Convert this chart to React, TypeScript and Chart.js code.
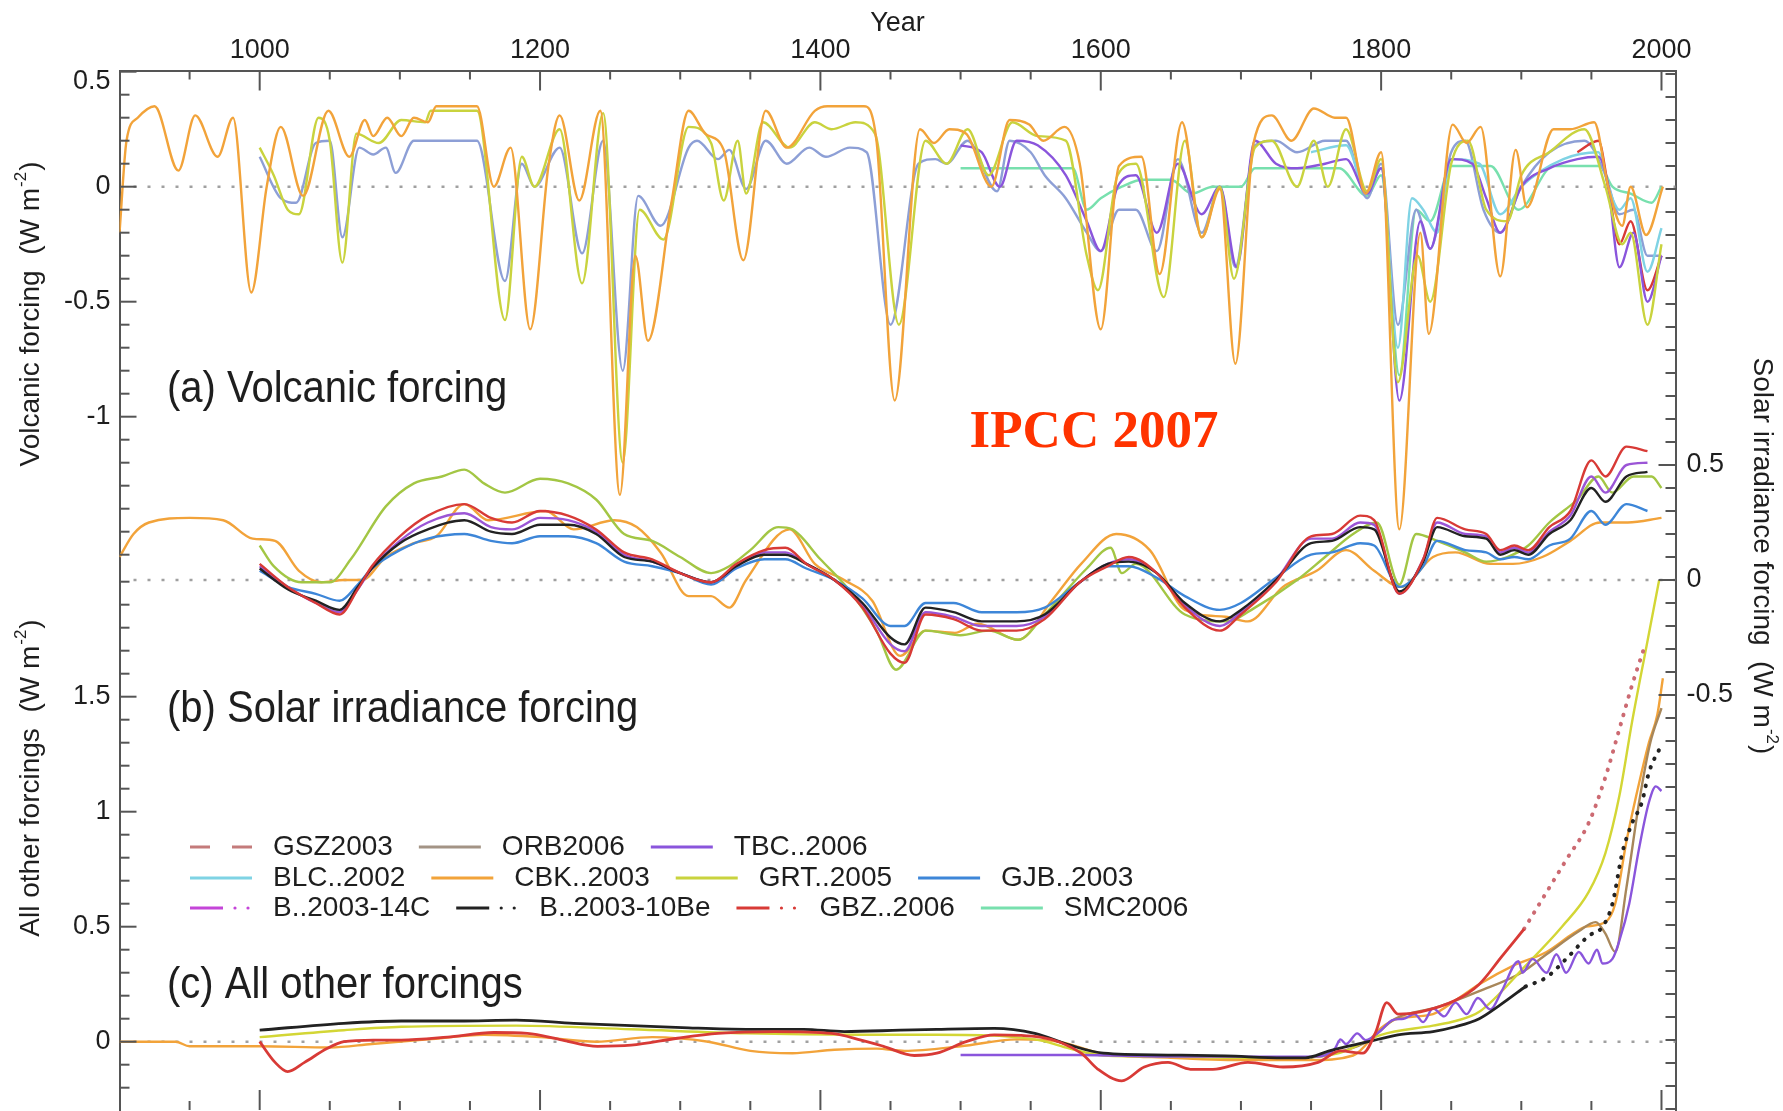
import React, { useEffect, useRef } from 'react';
import { Chart, registerables } from 'chart.js';

Chart.register(...registerables);

// ---------------- tick labels ----------------
const X_LABELS = [1000, 1200, 1400, 1600, 1800, 2000];
const VOLC_LABELS = [0, -0.5, -1];
const VOLC_TOP_LABEL = [0.5];
const OTHER_LABELS = [1.5, 1, 0.5, 0];
const SOLAR_LABELS = [0.5, 0, -0.5];

// ---------------- (a) volcanic forcing ----------------
const CBK_V_YEARS = [900,905,913,925,942,954,970,981,994,1005,1015,1031,1049,1064,1075,1081,1091,1101,1110,1120,1126,1155,1167,1179,1193,1206,1214,1228,1243,1257,1268,1277,1294,1306,1318,1331,1345,1361,1376,1396,1405,1431,1440,1453,1471,1481,1492,1504,1522,1535,1549,1559,1574,1585,1600,1613,1629,1642,1658,1672,1685,1696,1709,1722,1736,1752,1767,1775,1789,1800,1813,1828,1834,1851,1861,1871,1885,1896,1904,1923,1935,1952,1962,1972,1978,1989,2001];
const CBK_V = [-0.2,0.2,0.3,0.35,0.07,0.31,0.13,0.3,-0.46,0.0,0.26,-0.04,0.33,0.13,0.29,0.22,0.3,0.22,0.3,0.28,0.35,0.35,0.0,0.17,-0.62,0.09,0.31,-0.06,0.33,-1.34,-0.3,-0.67,-0.06,0.33,0.23,0.16,-0.32,0.33,0.17,0.33,0.35,0.35,0.2,-0.93,0.25,0.19,0.25,0.23,0.0,0.29,0.27,0.2,0.26,0.1,-0.62,0.09,0.13,-0.38,0.28,-0.22,-0.01,-0.77,0.19,0.31,0.2,0.34,0.3,0.3,-0.03,0.15,-1.49,-0.2,-0.64,0.27,0.19,0.26,-0.39,0.16,-0.09,0.25,0.25,0.28,0.0,-0.17,0.0,-0.21,0.0];

const GRT_V_YEARS = [1000,1010,1020,1028,1042,1050,1059,1069,1085,1101,1118,1122,1155,1175,1187,1196,1214,1230,1245,1259,1271,1288,1306,1322,1331,1341,1347,1359,1378,1396,1408,1425,1439,1456,1475,1490,1505,1520,1537,1555,1575,1590,1598,1612,1625,1645,1660,1672,1685,1695,1710,1722,1740,1752,1762,1775,1790,1800,1812,1826,1835,1850,1862,1875,1890,1900,1920,1945,1960,1972,1978,1990,2000];
const GRT_V = [0.17,0.05,-0.1,-0.12,0.3,0.2,-0.33,0.23,0.19,0.29,0.28,0.33,0.33,-0.58,0.13,0.0,0.25,-0.42,0.32,-1.2,-0.1,-0.23,0.26,0.19,-0.06,0.2,-0.03,0.28,0.17,0.28,0.25,0.28,0.23,-0.6,0.2,0.1,0.25,0.05,0.28,0.22,0.2,-0.3,-0.45,0.05,0.1,-0.48,0.2,-0.22,0.0,-0.4,0.17,0.2,0.0,0.2,0.0,0.25,-0.02,0.12,-0.85,-0.3,-0.5,0.1,0.2,-0.1,-0.15,0.05,0.15,0.25,0.0,-0.25,-0.2,-0.6,-0.25];

const GJB_V_YEARS = [1000,1015,1026,1040,1050,1059,1071,1081,1090,1097,1110,1155,1175,1187,1196,1214,1230,1245,1259,1270,1286,1306,1312,1327,1335,1347,1361,1376,1392,1404,1421,1433,1450,1470,1482,1490,1505,1526,1535,1550,1560,1575,1590,1600,1613,1625,1640,1655,1672,1685,1696,1710,1725,1740,1760,1775,1790,1800,1812,1825,1835,1850,1860,1873,1885,1900,1920,1945,1960,1970,1980,1990,2000];
const GJB_V = [0.13,-0.05,-0.07,0.19,0.2,-0.22,0.17,0.14,0.17,0.06,0.2,0.2,-0.41,0.1,0.0,0.17,-0.29,0.2,-0.8,-0.04,-0.17,0.17,0.2,0.12,0.16,-0.01,0.2,0.1,0.17,0.13,0.17,0.15,-0.6,0.1,0.12,0.1,0.2,-0.02,0.2,0.15,0.05,-0.05,-0.2,-0.28,-0.1,-0.1,-0.28,0.12,-0.2,0.0,-0.35,0.18,0.2,0.15,0.2,0.2,-0.05,0.1,-0.6,-0.1,-0.27,0.15,0.2,-0.1,-0.2,0.0,0.15,0.2,0.05,-0.12,-0.1,-0.3,-0.3];

const TBC_V_YEARS = [1500,1515,1528,1540,1555,1575,1590,1600,1612,1625,1640,1655,1672,1685,1697,1710,1725,1740,1760,1775,1790,1800,1813,1828,1835,1850,1865,1875,1885,1900,1920,1940,1955,1962,1970,1980,1990,2000];
const TBC_V = [0.18,0.15,0.0,0.2,0.18,0.05,-0.15,-0.28,0.0,0.05,-0.2,0.1,-0.12,0.0,-0.35,0.2,0.1,0.08,0.1,0.12,-0.03,0.08,-0.93,-0.15,-0.27,0.12,0.1,-0.05,-0.2,0.0,0.08,0.12,0.13,0.0,-0.35,-0.2,-0.5,-0.3];

const SMC_V_YEARS = [1500,1580,1590,1600,1615,1630,1650,1665,1680,1700,1710,1770,1790,1800,1813,1825,1835,1850,1878,1898,1923,1956,1965,1978,1993,2000];
const SMC_V = [0.08,0.08,-0.1,-0.05,0.0,0.03,0.03,-0.03,0.0,0.0,0.08,0.08,-0.04,0.05,-0.82,-0.1,-0.15,0.09,0.09,-0.1,0.09,0.09,0.0,-0.03,-0.07,0.0];

const BLC_V_YEARS = [1750,1775,1790,1800,1812,1822,1830,1840,1850,1870,1885,1900,1930,1955,1962,1970,1978,1990,2000];
const BLC_V = [0.15,0.18,-0.03,0.08,-0.7,-0.05,-0.1,-0.2,0.12,0.1,-0.12,0.0,0.12,0.15,0.0,-0.1,-0.05,-0.37,-0.18];

const GBZ_V_YEARS = [1940,1955,1962,1970,1978,1990,2000];
const GBZ_V = [0.15,0.2,0.0,-0.25,-0.15,-0.45,-0.3];

// ---------------- (b) solar irradiance forcing ----------------
const CBK_S_YEARS = [900,910,921,950,974,995,1011,1028,1044,1060,1073,1090,1110,1126,1146,1163,1204,1224,1253,1269,1286,1306,1322,1335,1347,1378,1396,1417,1437,1457,1475,1496,1512,1541,1565,1586,1611,1635,1660,1689,1705,1730,1754,1775,1795,1814,1837,1853,1878,1894,1915,1935,1956,1976,2000];
const CBK_S = [0.1,0.2,0.25,0.27,0.26,0.18,0.17,0.04,-0.01,0.0,0.0,0.1,0.16,0.19,0.33,0.26,0.3,0.22,0.26,0.23,0.12,-0.07,-0.07,-0.12,0.0,0.22,0.07,0.0,-0.09,-0.33,-0.22,-0.23,-0.19,-0.26,-0.09,0.07,0.2,0.13,-0.13,-0.16,-0.18,-0.03,0.04,0.13,0.04,-0.03,0.1,0.12,0.07,0.07,0.1,0.17,0.25,0.25,0.27];

const GRT_S_YEARS = [1000,1010,1030,1050,1065,1090,1110,1130,1146,1160,1175,1200,1220,1240,1260,1280,1300,1322,1335,1350,1370,1380,1400,1420,1440,1454,1475,1500,1520,1541,1560,1590,1607,1615,1625,1660,1690,1710,1740,1760,1780,1797,1813,1825,1840,1860,1875,1890,1905,1920,1940,1955,1965,1980,1993,2000];
const GRT_S = [0.15,0.06,-0.01,-0.01,0.09,0.32,0.42,0.45,0.48,0.42,0.38,0.44,0.42,0.35,0.2,0.17,0.1,0.03,0.06,0.13,0.23,0.22,0.09,-0.04,-0.22,-0.39,-0.22,-0.24,-0.22,-0.26,-0.15,0.05,0.14,0.03,0.07,-0.15,-0.18,-0.12,0.0,0.1,0.2,0.25,-0.02,0.2,0.17,0.12,0.08,0.1,0.15,0.25,0.35,0.45,0.38,0.45,0.45,0.4];

const SOLAR_YEARS = [1000,1020,1040,1057,1070,1080,1100,1120,1146,1165,1180,1200,1220,1240,1260,1280,1300,1322,1340,1360,1375,1390,1410,1430,1450,1460,1475,1495,1515,1540,1560,1585,1605,1620,1640,1660,1685,1700,1725,1750,1765,1785,1795,1813,1830,1840,1860,1875,1885,1895,1905,1920,1935,1950,1960,1975,1990];
const GBZ_S = [0.07,-0.03,-0.1,-0.15,-0.04,0.06,0.19,0.28,0.33,0.27,0.25,0.3,0.28,0.22,0.12,0.09,0.03,-0.01,0.07,0.13,0.14,0.07,0.0,-0.12,-0.32,-0.36,-0.15,-0.17,-0.22,-0.22,-0.17,-0.01,0.06,0.1,0.03,-0.12,-0.22,-0.15,-0.01,0.19,0.2,0.28,0.26,-0.06,0.09,0.27,0.22,0.2,0.13,0.15,0.13,0.23,0.3,0.52,0.45,0.58,0.56];
const B10BE_S = [0.05,-0.04,-0.09,-0.13,-0.03,0.05,0.16,0.22,0.26,0.21,0.2,0.24,0.24,0.2,0.1,0.08,0.03,-0.01,0.06,0.11,0.11,0.07,0.0,-0.1,-0.25,-0.28,-0.12,-0.14,-0.18,-0.18,-0.15,-0.01,0.07,0.08,0.03,-0.1,-0.18,-0.13,0.0,0.16,0.17,0.23,0.22,-0.05,0.08,0.23,0.19,0.18,0.11,0.13,0.11,0.2,0.26,0.4,0.34,0.45,0.47];
const GJB_S = [0.04,-0.03,-0.06,-0.09,-0.02,0.05,0.13,0.18,0.2,0.17,0.16,0.19,0.19,0.16,0.08,0.06,0.03,-0.02,0.05,0.09,0.09,0.05,0.0,-0.08,-0.2,-0.2,-0.1,-0.1,-0.14,-0.14,-0.12,-0.01,0.06,0.06,0.01,-0.07,-0.13,-0.1,0.01,0.11,0.12,0.16,0.15,-0.03,0.06,0.17,0.13,0.12,0.09,0.1,0.09,0.15,0.18,0.3,0.24,0.33,0.3];
const TBC_S = [0.06,-0.03,-0.1,-0.14,-0.04,0.05,0.17,0.25,0.29,0.23,0.22,0.27,0.26,0.21,0.11,0.08,0.03,-0.01,0.06,0.12,0.12,0.07,0.0,-0.11,-0.28,-0.31,-0.14,-0.16,-0.2,-0.2,-0.16,-0.01,0.07,0.09,0.03,-0.11,-0.2,-0.14,0.0,0.18,0.18,0.25,0.24,-0.06,0.09,0.25,0.2,0.19,0.12,0.14,0.12,0.21,0.28,0.45,0.38,0.5,0.51];

// ---------------- (c) all other forcings ----------------
const CBK_C_YEARS = [900,940,950,1000,1050,1080,1120,1160,1200,1240,1280,1320,1350,1380,1410,1440,1460,1500,1540,1570,1600,1650,1700,1750,1780,1800,1812,1837,1853,1870,1894,1918,1937,1946,1960,1967,1975,1982,1991,1997,2001];
const CBK_C = [0,0,-0.02,-0.02,-0.025,-0.01,0.01,0.03,0.02,0.0,0.02,0.0,-0.04,-0.05,-0.035,-0.03,-0.04,-0.02,0.01,0.0,-0.05,-0.07,-0.08,-0.08,-0.06,0.06,0.1,0.12,0.18,0.25,0.33,0.39,0.47,0.5,0.52,0.6,0.87,1.07,1.3,1.42,1.58];

const GRT_C_YEARS = [1000,1060,1101,1183,1265,1347,1429,1483,1553,1578,1602,1650,1700,1740,1770,1800,1837,1853,1870,1903,1929,1948,1960,1970,1979,1989,2000];
const GRT_C = [0.02,0.05,0.065,0.07,0.054,0.036,0.03,0.03,0.01,-0.03,-0.06,-0.065,-0.07,-0.07,-0.05,0.03,0.07,0.09,0.13,0.33,0.5,0.65,0.82,1.07,1.39,1.71,2.06];

const B10BE_C_YEARS = [1000,1060,1101,1142,1183,1224,1265,1306,1347,1388,1417,1457,1483,1524,1553,1578,1602,1648,1689,1730,1746,1763,1791,1812,1837,1853,1870,1885,1903];
const B10BE_C = [0.05,0.08,0.09,0.09,0.094,0.08,0.07,0.06,0.054,0.054,0.044,0.05,0.054,0.058,0.036,-0.015,-0.05,-0.058,-0.062,-0.07,-0.07,-0.04,0.0,0.03,0.044,0.065,0.1,0.16,0.24];
const B10BE_C_DOT_YEARS = [1903,1918,1932,1948,1958,1965,1972,1979,1986,1991,2000];
const B10BE_C_DOT = [0.24,0.28,0.36,0.46,0.5,0.6,0.82,0.95,1.04,1.17,1.29];

const GBZ_C_YEARS = [1000,1011,1020,1032,1048,1060,1081,1101,1134,1167,1191,1216,1241,1265,1298,1327,1367,1408,1429,1445,1467,1483,1504,1524,1557,1586,1598,1615,1631,1648,1664,1680,1705,1730,1755,1771,1787,1796,1804,1812,1828,1853,1870,1886,1902];
const GBZ_C = [0.0,-0.09,-0.13,-0.09,-0.03,0.0,0.007,0.007,0.02,0.04,0.036,0.007,-0.02,-0.015,0.015,0.036,0.044,0.036,0.007,-0.02,-0.06,-0.05,0.0,0.03,0.02,-0.05,-0.12,-0.17,-0.11,-0.09,-0.12,-0.12,-0.09,-0.11,-0.09,-0.04,-0.05,0.04,0.17,0.12,0.13,0.18,0.25,0.37,0.49];
const GBZ_C_DOT_YEARS = [1902,1918,1932,1948,1960,1970,1979,1987];
const GBZ_C_DOT = [0.49,0.65,0.79,0.95,1.15,1.36,1.55,1.7];

const TBC_C_YEARS = [1500,1584,1650,1700,1754,1767,1771,1775,1783,1789,1800,1808,1816,1824,1830,1837,1845,1853,1861,1869,1878,1886,1898,1901,1908,1918,1925,1932,1941,1948,1954,1958,1965,1970,1977,1984,1991,1996,2000];
const TBC_C = [-0.058,-0.058,-0.065,-0.065,-0.065,-0.03,0.01,-0.01,0.036,0.007,0.05,0.094,0.1,0.12,0.085,0.145,0.11,0.17,0.12,0.19,0.14,0.22,0.35,0.3,0.36,0.3,0.38,0.3,0.39,0.34,0.4,0.34,0.36,0.44,0.6,0.84,1.04,1.11,1.09];

const ORB_C_YEARS = [1750,1790,1810,1840,1870,1900,1918,1941,1953,1960,1967,1975,1984,1992,2000];
const ORB_C = [-0.07,0.0,0.1,0.15,0.22,0.3,0.38,0.48,0.52,0.47,0.39,0.67,1.04,1.3,1.45];

// ---------------- legend ----------------
const LEGEND_ROWS = [
  ['GSZ2003', 'ORB2006', 'TBC..2006'],
  ['BLC..2002', 'CBK..2003', 'GRT..2005', 'GJB..2003'],
  ['B..2003-14C', 'B..2003-10Be', 'GBZ..2006', 'SMC2006'],
];
const COLORS: Record<string, string> = {
  'GSZ2003': '#c47b7b',
  'ORB2006': '#a39485',
  'TBC..2006': '#8a55dc',
  'BLC..2002': '#7fd3e4',
  'CBK..2003': '#f2a33a',
  'GRT..2005': '#c9d33e',
  'GJB..2003': '#3d86d8',
  'B..2003-14C': '#c445d8',
  'B..2003-10Be': '#222222',
  'GBZ..2006': '#d83a36',
  'SMC2006': '#78e0ae',
};
const LEGEND_KIND: Record<string, string> = {
  'GSZ2003': 'dash', 'B..2003-14C': 'dashdot', 'B..2003-10Be': 'dashdot', 'GBZ..2006': 'dashdot',
};

// ---------------- layout constants ----------------
const W = 1783, H = 1111;
const AREA_LEFT = 119.5, AREA_RIGHT = 1675.5, AREA_TOP = 70.5, AREA_BOTTOM = 1110;
const LEFT_SPLIT = 580; // where the two stacked left axes meet
const PX_PER_UNIT = 230;
const V_ZERO = 186.7, S_ZERO = 580, O_ZERO = 1041.7;
const SPAN = (AREA_BOTTOM - AREA_TOP) / PX_PER_UNIT;
const V_MAX = (V_ZERO - AREA_TOP) / PX_PER_UNIT, V_MIN = V_MAX - (LEFT_SPLIT - AREA_TOP) / PX_PER_UNIT;
const V_FULL_MIN = V_MAX - SPAN;
const S_MAX = (S_ZERO - AREA_TOP) / PX_PER_UNIT, S_MIN = S_MAX - SPAN;
const O_MAX = (O_ZERO - LEFT_SPLIT) / PX_PER_UNIT, O_MIN = O_MAX - (AREA_BOTTOM - LEFT_SPLIT) / PX_PER_UNIT;
const FONT = '"Liberation Sans", Arial, Helvetica, sans-serif';
const TICK_SIZE = 27;
const INK = '#1e1e1e';
const AXIS = '#555555';

function series(years: number[], vals: number[], axis: string, color: string, extra: any = {}) {
  return {
    data: years.map((x, i) => ({ x, y: vals[i] })),
    xAxisID: 'x',
    yAxisID: axis,
    borderColor: color,
    backgroundColor: color,
    borderWidth: 2.4,
    pointRadius: 0,
    fill: false,
    cubicInterpolationMode: 'monotone',
    ...extra,
  };
}
const DOTTED = { borderDash: [0.5, 9], borderCapStyle: 'round', borderWidth: 4 };

function tickList(values: number[]) {
  return (s: any) => { s.ticks = values.map((v) => ({ value: v })); };
}
function fixSize(prop: 'width' | 'height', size: number) {
  return (s: any) => {
    s[prop] = size;
    s.paddingTop = 0; s.paddingBottom = 0; s.paddingLeft = 0; s.paddingRight = 0;
  };
}
function textWidth(t: string, font: string) {
  const c = document.createElement('canvas').getContext('2d') as CanvasRenderingContext2D;
  c.font = font;
  return c.measureText(t).width;
}

function drawUnitTitle(ctx: CanvasRenderingContext2D, main: string, cx: number, cy: number, rot: number) {
  const f = 28;
  ctx.save();
  ctx.translate(cx, cy);
  ctx.rotate(rot);
  ctx.fillStyle = INK;
  ctx.textBaseline = 'middle';
  ctx.textAlign = 'left';
  const a = main + '  (W m';
  ctx.font = `${f}px ${FONT}`;
  const w1 = ctx.measureText(a).width;
  const w3 = ctx.measureText(')').width;
  ctx.font = `${Math.round(f * 0.62)}px ${FONT}`;
  const w2 = ctx.measureText('-2').width;
  let x = -(w1 + w2 + w3 + 2) / 2;
  ctx.font = `${f}px ${FONT}`;
  ctx.fillText(a, x, 0);
  x += w1 + 1;
  ctx.font = `${Math.round(f * 0.62)}px ${FONT}`;
  ctx.fillText('-2', x, -f * 0.36);
  x += w2 + 1;
  ctx.font = `${f}px ${FONT}`;
  ctx.fillText(')', x, 0);
  ctx.restore();
}

const overlay = {
  id: 'overlay',
  beforeDatasetsDraw(chart: any) {
    const { ctx, chartArea: a, scales } = chart;
    ctx.save();
    ctx.strokeStyle = '#a0a0a0';
    ctx.lineWidth = 2.5;
    ctx.setLineDash([3, 11]);
    for (const id of ['yV', 'yS', 'yO']) {
      const y = scales[id].getPixelForValue(0);
      ctx.beginPath();
      ctx.moveTo(a.left + 14, y);
      ctx.lineTo(a.right, y);
      ctx.stroke();
    }
    ctx.restore();
  },
  afterDraw(chart: any) {
    const { ctx, chartArea: a, scales } = chart;
    ctx.save();
    // inward tick marks
    ctx.strokeStyle = AXIS;
    ctx.lineWidth = 2;
    ctx.setLineDash([]);
    const seg = (x1: number, y1: number, x2: number, y2: number) => {
      ctx.beginPath(); ctx.moveTo(x1, y1); ctx.lineTo(x2, y2); ctx.stroke();
    };
    for (let yr = 950; yr <= 2000; yr += 50) {
      const px = scales.x.getPixelForValue(yr);
      const len = yr % 200 === 0 ? 20 : 9;
      seg(px, a.top, px, a.top + len);
      seg(px, a.bottom, px, a.bottom - len);
    }
    for (let k = 5; k >= -16; k--) {
      const y = scales.yV.getPixelForValue(k / 10);
      const major = k % 5 === 0 && k >= -10;
      seg(a.left, y, a.left + (major ? 17 : 10), y);
    }
    for (let k = -2; k <= 20; k++) {
      const y = scales.yO.getPixelForValue(k / 10);
      if (y > a.bottom - 1) continue;
      const major = k % 5 === 0 && k >= 0 && k <= 15;
      seg(a.left, y, a.left + (major ? 17 : 10), y);
    }
    for (let k = 22; k >= -23; k--) {
      const y = scales.yS.getPixelForValue(k / 10);
      if (y < a.top + 1 || y > a.bottom - 1) continue;
      const major = k === 5 || k === 0 || k === -5;
      seg(a.right, y, a.right - (major ? 17 : 10), y);
    }

    // panel labels
    ctx.fillStyle = INK;
    ctx.font = `40px ${FONT}`;
    ctx.textAlign = 'left';
    ctx.textBaseline = 'alphabetic';
    const panel = (t: string, y: number) => {
      ctx.save(); ctx.translate(167, y); ctx.scale(1, 1.1); ctx.fillText(t, 0, 0); ctx.restore();
    };
    panel('(a) Volcanic forcing', 402);
    panel('(b) Solar irradiance forcing', 722);
    panel('(c) All other forcings', 998);

    // axis titles
    drawUnitTitle(ctx, 'Volcanic forcing', 31, 314, -Math.PI / 2);
    drawUnitTitle(ctx, 'All other forcings', 31, 778, -Math.PI / 2);
    drawUnitTitle(ctx, 'Solar irradiance forcing', 1762, 556, Math.PI / 2);

    // legend
    const rowY = [847, 878, 908];
    ctx.font = `28px ${FONT}`;
    ctx.textBaseline = 'middle';
    LEGEND_ROWS.forEach((row, r) => {
      let x = 190;
      const y = rowY[r];
      row.forEach((name) => {
        const c = COLORS[name];
        const kind = LEGEND_KIND[name] || 'solid';
        ctx.strokeStyle = c;
        ctx.fillStyle = c;
        ctx.lineWidth = 3;
        if (kind === 'dash') {
          ctx.setLineDash([20, 22]);
          seg(x, y, x + 62, y);
          ctx.setLineDash([]);
        } else if (kind === 'dashdot') {
          seg(x, y, x + 33, y);
          for (const dx of [45, 58]) { ctx.beginPath(); ctx.arc(x + dx, y, 1.6, 0, Math.PI * 2); ctx.fill(); }
        } else {
          seg(x, y, x + 62, y);
        }
        x += 62 + 21;
        ctx.fillStyle = INK;
        ctx.fillText(name, x, y);
        x += ctx.measureText(name).width + 26;
      });
    });

    // watermark
    ctx.font = `bold 53px "Liberation Serif", "Times New Roman", serif`;
    ctx.fillStyle = '#ff3300';
    ctx.textAlign = 'center';
    ctx.textBaseline = 'alphabetic';
    ctx.fillText('IPCC 2007', 1094, 447);
    ctx.restore();
  },
};

export default function App() {
  const ref = useRef<HTMLCanvasElement>(null);
  useEffect(() => {
    const datasets: any[] = [
      // (c)
      series(GBZ_C_YEARS, GBZ_C, 'yO', COLORS['GBZ..2006'], { borderWidth: 2.8 }),
      series(GBZ_C_DOT_YEARS, GBZ_C_DOT, 'yO', '#cc6a72', DOTTED),
      series(B10BE_C_YEARS, B10BE_C, 'yO', COLORS['B..2003-10Be'], { borderWidth: 2.8 }),
      series(B10BE_C_DOT_YEARS, B10BE_C_DOT, 'yO', COLORS['B..2003-10Be'], DOTTED),
      series(TBC_C_YEARS, TBC_C, 'yO', COLORS['TBC..2006']),
      series(GRT_C_YEARS, GRT_C, 'yO', '#d3d635'),
      series(ORB_C_YEARS, ORB_C, 'yO', '#a8875a'),
      series(CBK_C_YEARS, CBK_C, 'yO', COLORS['CBK..2003']),
      // (b)
      series(SOLAR_YEARS, GBZ_S, 'yS', COLORS['GBZ..2006']),
      series(SOLAR_YEARS, B10BE_S, 'yS', COLORS['B..2003-10Be']),
      series(SOLAR_YEARS, TBC_S, 'yS', '#9b55d6'),
      series(SOLAR_YEARS, GJB_S, 'yS', COLORS['GJB..2003']),
      series(GRT_S_YEARS, GRT_S, 'yS', '#a3c644'),
      series(CBK_S_YEARS, CBK_S, 'yS', COLORS['CBK..2003']),
      // (a)
      series(CBK_V_YEARS, CBK_V, 'yV', COLORS['CBK..2003']),
      series(GRT_V_YEARS, GRT_V, 'yV', COLORS['GRT..2005']),
      series(TBC_V_YEARS, TBC_V, 'yV', COLORS['TBC..2006']),
      series(GBZ_V_YEARS, GBZ_V, 'yV', COLORS['GBZ..2006']),
      series(BLC_V_YEARS, BLC_V, 'yV', COLORS['BLC..2002']),
      series(GJB_V_YEARS, GJB_V, 'yV', '#8d9fd6'),
      series(SMC_V_YEARS, SMC_V, 'yV', COLORS['SMC2006']),
    ];
    const tickFont = { family: FONT, size: TICK_SIZE };
    const yTicks = { font: tickFont, color: INK, autoSkip: false, callback: (v: any) => String(v) };
    const yBase = (min: number, max: number) => ({
      type: 'linear', min, max,
      grid: { display: false, drawTicks: false },
    });
    const w05 = textWidth('0.5', `${TICK_SIZE}px ${FONT}`);
    const chart = new Chart(ref.current as HTMLCanvasElement, {
      type: 'line',
      data: { datasets },
      options: {
        animation: false,
        responsive: false,
        maintainAspectRatio: false,
        devicePixelRatio: 1,
        layout: { padding: 0 },
        events: [],
        plugins: { legend: { display: false }, tooltip: { enabled: false } },
        scales: {
          x: {
            type: 'linear', position: 'top', min: 900, max: 2010,
            afterBuildTicks: tickList(X_LABELS),
            afterFit: fixSize('height', AREA_TOP),
            grid: { display: false, drawTicks: false },
            border: { display: true, color: AXIS, width: 2 },
            ticks: { font: tickFont, color: INK, padding: 4, autoSkip: false, maxRotation: 0, minRotation: 0, callback: (v: any) => String(v) },
            title: { display: true, text: 'Year', font: tickFont, color: INK, padding: { top: 7, bottom: 0 } },
          },
          x2: {
            type: 'linear', position: 'bottom', min: 900, max: 2010,
            afterFit: fixSize('height', H - AREA_BOTTOM),
            grid: { display: false, drawTicks: false },
            border: { display: false },
            ticks: { display: false },
          },
          // thin helper axis (innermost) carrying the shifted top "0.5" label
          yV5: {
            ...yBase(V_FULL_MIN, V_MAX), position: 'left',
            afterBuildTicks: tickList(VOLC_TOP_LABEL),
            afterFit: fixSize('width', 0),
            border: { display: false },
            ticks: { ...yTicks, mirror: true, crossAlign: 'far', padding: -(w05 + 9), labelOffset: 10 },
          },
          // two stacked left axes: other forcings (lower part), volcanic (upper part)
          yO: {
            ...yBase(O_MIN, O_MAX), position: 'left', stack: 'left', stackWeight: AREA_BOTTOM - LEFT_SPLIT,
            afterBuildTicks: tickList(OTHER_LABELS),
            afterFit: fixSize('width', AREA_LEFT),
            border: { display: true, color: AXIS, width: 2 },
            ticks: { ...yTicks, padding: 9 },
          },
          yV: {
            ...yBase(V_MIN, V_MAX), position: 'left', stack: 'left', stackWeight: LEFT_SPLIT - AREA_TOP,
            afterBuildTicks: tickList(VOLC_LABELS),
            afterFit: fixSize('width', AREA_LEFT),
            border: { display: true, color: AXIS, width: 2 },
            ticks: { ...yTicks, padding: 9 },
          },
          yS: {
            ...yBase(S_MIN, S_MAX), position: 'right',
            afterBuildTicks: tickList(SOLAR_LABELS),
            afterFit: fixSize('width', W - AREA_RIGHT),
            border: { display: true, color: AXIS, width: 2 },
            ticks: { ...yTicks, padding: 11 },
          },
        },
      } as any,
      plugins: [overlay as any],
    });
    return () => chart.destroy();
  }, []);
  return (
    <div style={{ position: 'absolute', left: 0, top: 0, width: W, height: H, background: '#ffffff', overflow: 'hidden' }}>
      <canvas ref={ref} width={W} height={H} style={{ display: 'block', width: W, height: H }} />
    </div>
  );
}
